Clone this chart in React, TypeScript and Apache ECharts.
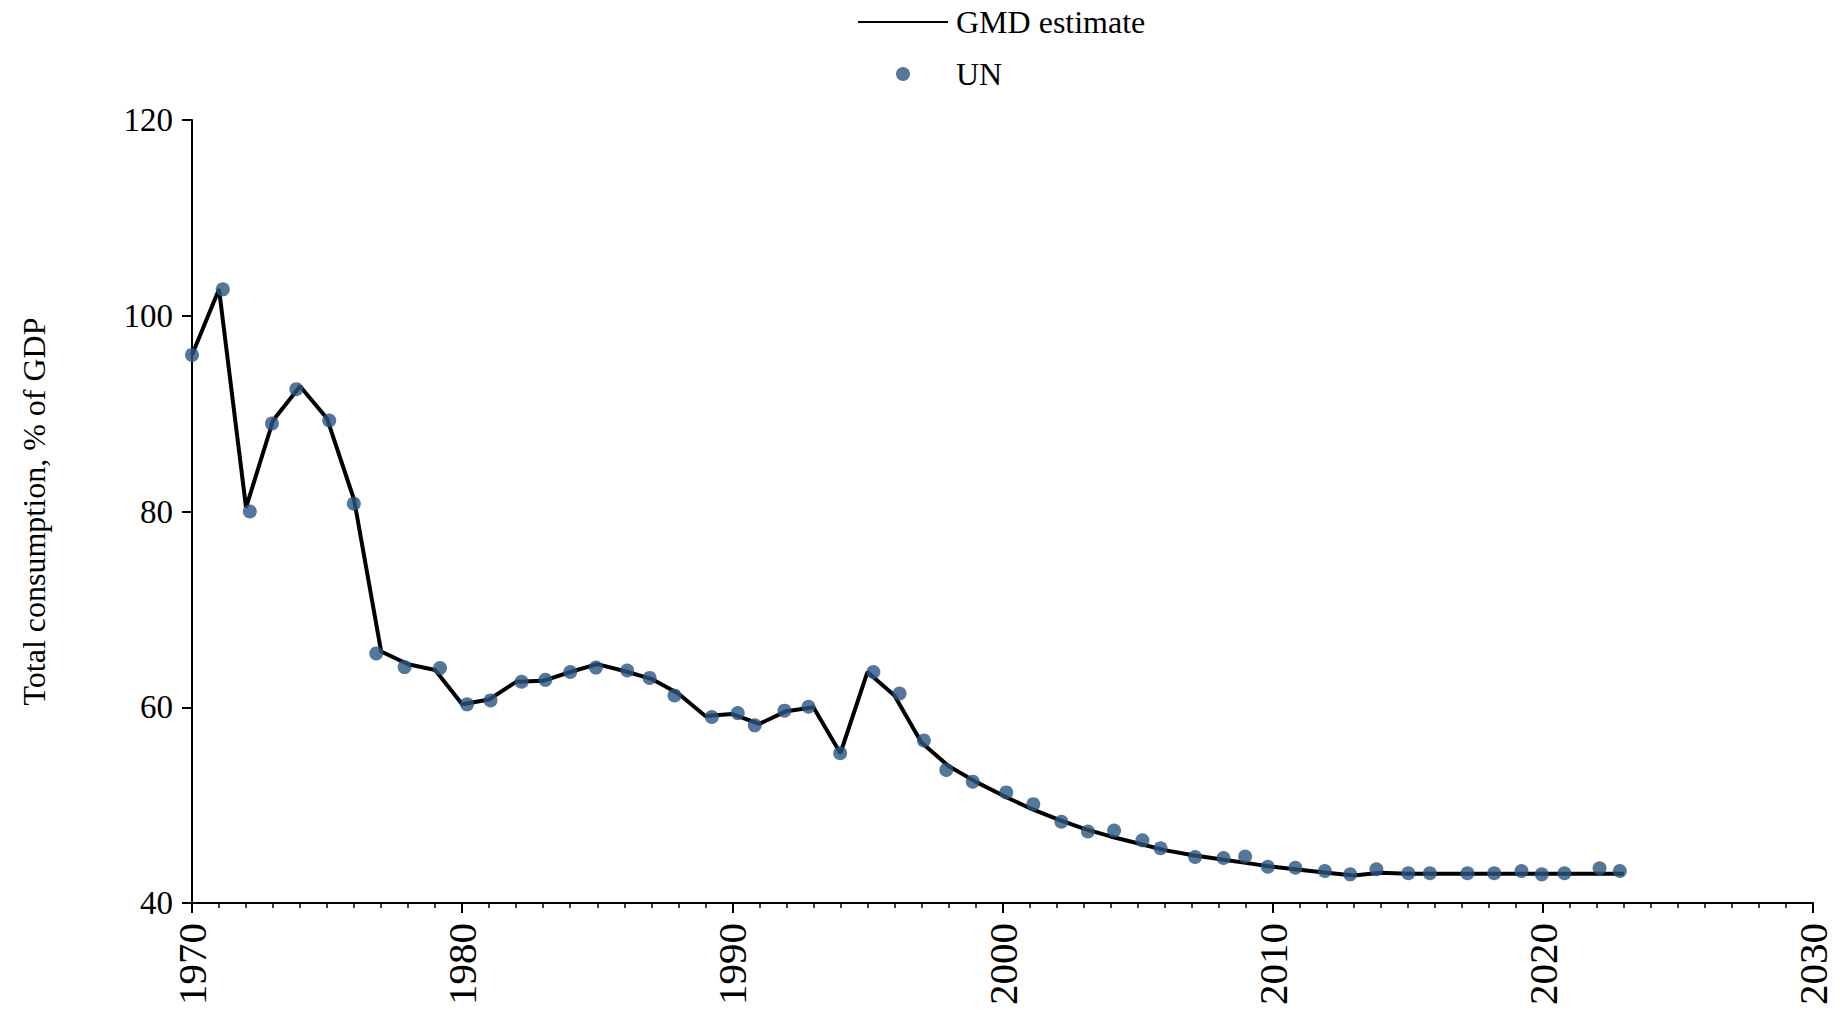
import React, { useEffect, useRef } from "react";
import * as echarts from "echarts";

const gmdYears = [
  1970, 1971, 1972, 1973, 1974, 1975, 1976, 1977, 1978, 1979,
  1980, 1981, 1982, 1983, 1984, 1985, 1986, 1987, 1988, 1989,
  1990, 1991, 1992, 1993, 1994, 1995, 1996, 1997, 1998, 1999,
  2000, 2001, 2002, 2003, 2004, 2005, 2006, 2007, 2008, 2009,
  2010, 2011, 2012, 2013, 2014, 2015, 2016, 2017, 2018, 2019,
  2020, 2021, 2022, 2023,
];
const gmdValues = [
  96.0, 102.7, 80.4, 89.3, 92.8, 89.5, 81.2, 65.7, 64.4, 63.8,
  60.3, 60.8, 62.6, 62.7, 63.6, 64.4, 63.7, 62.9, 61.4, 59.1,
  59.3, 58.3, 59.6, 60.0, 55.3, 63.6, 61.2, 56.4, 54.0, 52.4,
  51.0, 49.7, 48.6, 47.6, 46.8, 46.1, 45.4, 44.9, 44.5, 44.1,
  43.7, 43.4, 43.1, 42.8, 43.1, 43.0, 43.0, 43.0, 43.0, 43.0,
  43.0, 43.0, 43.0, 43.0,
];
// UN observations (positions slightly jittered around each year, as in the source)
const unYears = [
  1970.0, 1971.14, 1972.14, 1972.96, 1973.86, 1975.08, 1975.99, 1976.82, 1977.87, 1979.18,
  1980.18, 1981.05, 1982.2, 1983.08, 1984.0, 1984.95, 1986.11, 1986.94, 1987.86, 1989.24,
  1990.2, 1990.83, 1991.93, 1992.82, 1993.99, 1995.22, 1996.19, 1997.09, 1997.92, 1998.9,
  2000.14, 2001.14, 2002.18, 2003.16, 2004.13, 2005.18, 2005.85, 2007.13, 2008.18, 2008.98,
  2009.82, 2010.84, 2011.93, 2012.87, 2013.84, 2015.02, 2015.82, 2017.21, 2018.2, 2019.21,
  2019.96, 2020.8, 2022.1, 2022.85,
];
const unValues = [
  96.0, 102.7, 80.0, 89.0, 92.5, 89.3, 80.8, 65.5, 64.1, 64.0,
  60.3, 60.7, 62.6, 62.8, 63.6, 64.05, 63.75, 63.0, 61.2, 59.0,
  59.4, 58.15, 59.65, 60.05, 55.3, 63.6, 61.4, 56.6, 53.6, 52.4,
  51.3, 50.1, 48.3, 47.3, 47.4, 46.4, 45.6, 44.7, 44.6, 44.75,
  43.7, 43.6, 43.27, 42.93, 43.45, 43.04, 43.04, 43.04, 43.04, 43.27,
  42.93, 43.04, 43.55, 43.27,
];
const yTicks = { min: 40, max: 120, interval: 20 };
const xTicks = { min: 1970, max: 2030, interval: 10 };
const seriesNames = ["GMD estimate", "UN"];
const yTitle = "Total consumption, % of GDP";

const FONT = "Liberation Serif, Times New Roman, serif";

export default function App() {
  const ref = useRef<HTMLDivElement>(null);
  useEffect(() => {
    if (!ref.current) return;
    const chart = echarts.init(ref.current, undefined, { renderer: "svg" });
    chart.setOption({
      animation: false,
      backgroundColor: "#ffffff",
      textStyle: { fontFamily: FONT, color: "#000" },
      legend: {
        orient: "vertical",
        left: 852,
        top: 1,
        itemWidth: 90,
        itemHeight: 14,
        itemGap: 20,
        data: [
          { name: seriesNames[0], itemStyle: { opacity: 0 } },
          { name: seriesNames[1] },
        ],
        textStyle: {
          fontFamily: FONT,
          fontSize: 32,
          color: "#000",
          lineHeight: 32,
          padding: [0, 0, 0, 3],
        },
      },
      grid: { left: 192, right: 27, top: 120, bottom: 107, containLabel: false },
      xAxis: {
        type: "value",
        min: xTicks.min,
        max: xTicks.max,
        interval: xTicks.interval,
        splitLine: { show: false },
        axisLine: { show: true, onZero: false, lineStyle: { color: "#000", width: 2 } },
        axisTick: { show: true, length: 10, lineStyle: { color: "#000", width: 2 } },
        minorTick: { show: true, splitNumber: 10, length: 5, lineStyle: { color: "#000", width: 1.5 } },
        axisLabel: {
          rotate: 90,
          margin: 20,
          fontSize: 41,
          fontFamily: FONT,
          color: "#000",
          formatter: (v: number) => String(v),
        },
      },
      yAxis: {
        type: "value",
        min: yTicks.min,
        max: yTicks.max,
        interval: yTicks.interval,
        splitLine: { show: false },
        axisLine: { show: true, lineStyle: { color: "#000", width: 2 } },
        axisTick: { show: true, length: 10, lineStyle: { color: "#000", width: 2 } },
        axisLabel: { margin: 19, fontSize: 33, fontFamily: FONT, color: "#000" },
        name: yTitle,
        nameLocation: "middle",
        nameGap: 142,
        nameTextStyle: { fontSize: 32, fontFamily: FONT, color: "#000" },
      },
      series: [
        {
          name: seriesNames[0],
          type: "line",
          data: gmdYears.map((y, i) => [y, gmdValues[i]]),
          symbol: "none",
          showSymbol: false,
          lineStyle: { color: "#000", width: 4 },
          itemStyle: { color: "#000" },
          z: 2,
        },
        {
          name: seriesNames[1],
          type: "scatter",
          data: unYears.map((y, i) => [y, unValues[i]]),
          symbol: "circle",
          symbolSize: 14,
          clip: false,
          itemStyle: { color: "#2b557f", opacity: 0.8 },
          z: 3,
        },
      ],
    });
    return () => chart.dispose();
  }, []);
  return (
    <div
      ref={ref}
      style={{ position: "fixed", left: 0, top: 0, width: 1840, height: 1010 }}
    />
  );
}
